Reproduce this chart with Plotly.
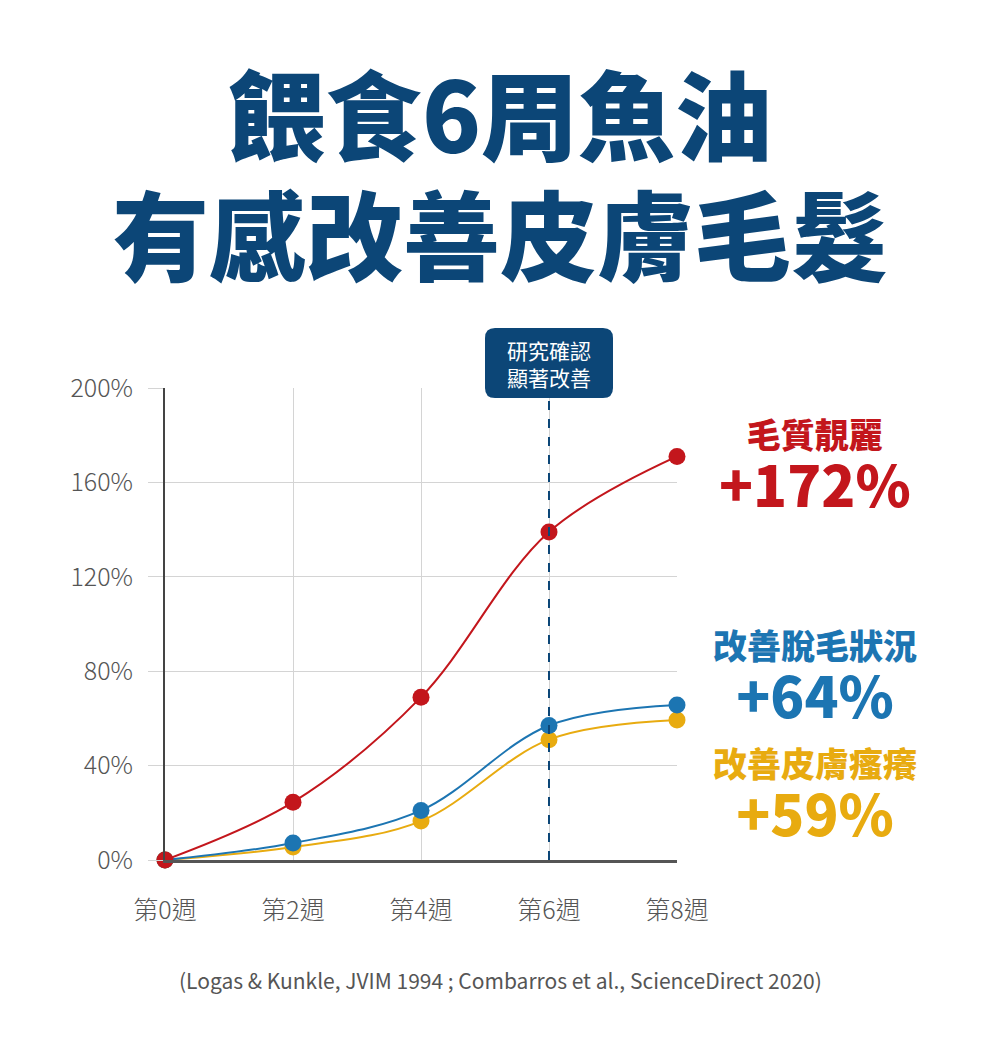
import plotly.graph_objects as go

weeks = [0, 2, 4, 6, 8]
week_labels = ["第0週", "第2週", "第4週", "第6週", "第8週"]

coat = [0, 24.5, 69, 139, 171]        # 毛質靚麗
shedding = [0, 7.2, 21, 57, 65.7]     # 改善脫毛狀況
itching = [0, 5.5, 16.5, 51, 59.3]    # 改善皮膚瘙癢

y_ticks = [0, 40, 80, 120, 160, 200]
y_tick_labels = ["0%", "40%", "80%", "120%", "160%", "200%"]

NAVY = "#0c4677"
RED = "#c3161c"
BLUE = "#1c75b2"
YELLOW = "#e8ab10"
CJK = "Noto Sans CJK TC"

# page has an 8px body margin, so shift the plot area
OFF = 8
L, R, T, B = 165 - OFF, 323 + OFF, 388 - OFF, 179 + OFF
W, H = 1000, 1039
PW, PH = W - L - R, H - T - B


def py(pix):
    return (H - B - (pix - OFF)) / PH


def px(pix):
    return (pix - OFF - L) / PW


fig = go.Figure()

for vals, col in [(itching, YELLOW), (shedding, BLUE), (coat, RED)]:
    fig.add_trace(go.Scatter(
        x=weeks, y=vals, mode="lines+markers",
        line=dict(color=col, width=2, shape="spline", smoothing=1),
        marker=dict(color=col, size=17),
        cliponaxis=False, showlegend=False, hoverinfo="skip"
    ))

# dashed marker line at week 6
fig.add_shape(type="line", xref="x", yref="y", x0=6, x1=6, y0=0, y1=200,
              line=dict(color=NAVY, width=2, dash="dash"), layer="above")

# rounded callout box
hw, r = 64, 10
y0, y1 = py(398), py(328)
ry = r / PH
path = (f"M {-hw + r},{y0} L {hw - r},{y0} Q {hw},{y0} {hw},{y0 + ry} "
        f"L {hw},{y1 - ry} Q {hw},{y1} {hw - r},{y1} "
        f"L {-hw + r},{y1} Q {-hw},{y1} {-hw},{y1 - ry} "
        f"L {-hw},{y0 + ry} Q {-hw},{y0} {-hw + r},{y0} Z")
fig.add_shape(type="path", path=path, xref="x", xsizemode="pixel", xanchor=6,
              yref="paper", fillcolor=NAVY, line=dict(width=0), layer="above")
fig.add_annotation(x=6, xref="x", y=py(363), yref="paper",
                   xanchor="center", yanchor="middle",
                   text="研究確認<br>顯著改善", showarrow=False,
                   font=dict(family=CJK, size=21, color="white"))

# title
for txt, ypix in [("餵食6周魚油", 110), ("有感改善皮膚毛髮", 230)]:
    fig.add_annotation(x=px(500), xref="paper", y=py(ypix), yref="paper",
                       xanchor="center", yanchor="middle",
                       text=txt, showarrow=False,
                       font=dict(family=CJK, size=97, color=NAVY, weight=900))

# right-hand labels: name + percentage stacked in one annotation each
labels = [
    ("毛質靚麗", "+172%", 466, RED),
    ("改善脫毛狀況", "+64%", 677, BLUE),
    ("改善皮膚瘙癢", "+59%", 795, YELLOW),
]
for name, pct, ypix, col in labels:
    fig.add_annotation(x=px(815), xref="paper", y=py(ypix), yref="paper",
                       xanchor="center", yanchor="middle",
                       text=(f"<span style='font-size:34px'>{name}</span><br>"
                             f"<span style='font-size:56px'>{pct}</span>"),
                       showarrow=False,
                       font=dict(family=CJK, size=45, color=col, weight=900))

# source note
fig.add_annotation(x=px(500), xref="paper", y=py(980), yref="paper",
                   xanchor="center", yanchor="middle",
                   text="(Logas & Kunkle, JVIM 1994 ; Combarros et al., ScienceDirect 2020)",
                   showarrow=False, font=dict(family=CJK, size=21, color="#555555"))

fig.update_xaxes(range=[0, 8], tickvals=weeks, ticktext=week_labels,
                 showgrid=True, gridcolor="#d4d4d4", gridwidth=1,
                 showline=True, linecolor="#555555", linewidth=3,
                 ticks="", ticklabelstandoff=26, zeroline=False,
                 tickfont=dict(family=CJK, size=25, color="#555555", weight=300))
fig.update_yaxes(range=[0, 200], tickvals=y_ticks, ticktext=y_tick_labels,
                 showgrid=True, gridcolor="#d4d4d4", gridwidth=1,
                 showline=True, linecolor="#444444", linewidth=2,
                 ticks="outside", ticklen=15, tickcolor="#d4d4d4",
                 ticklabelstandoff=10, zeroline=False,
                 tickfont=dict(family=CJK, size=25, color="#555555", weight=300))

fig.update_layout(width=W, height=H, margin=dict(l=L, r=R, t=T, b=B),
                  plot_bgcolor="white", paper_bgcolor="white")

fig.write_html("out.html")
